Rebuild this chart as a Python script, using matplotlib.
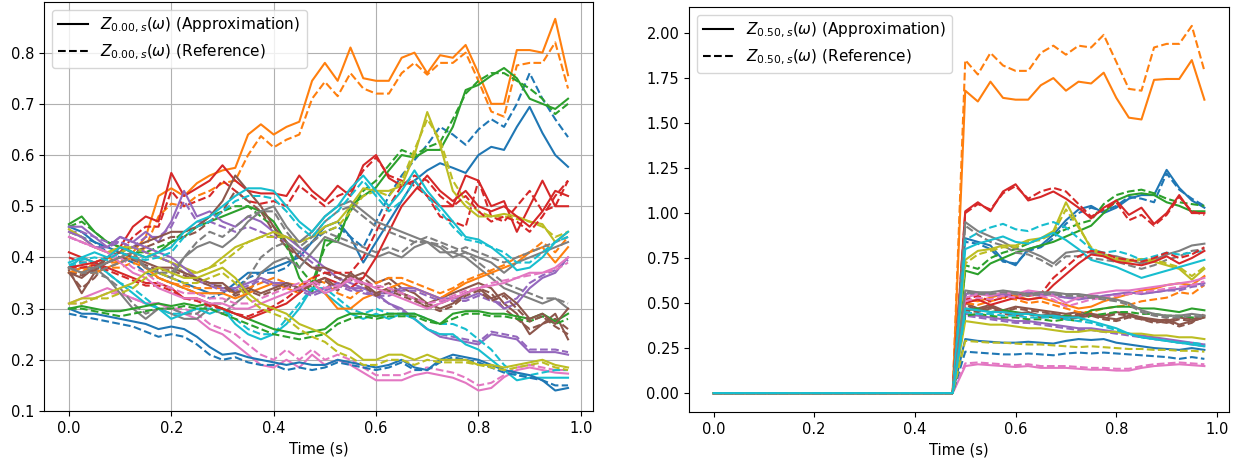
import matplotlib.pyplot as plt
from matplotlib.lines import Line2D
import numpy as np

plt.rcParams['font.size'] = 10.5

# time grid (s), step 0.025
t = np.arange(40) * 0.025

# --- left panel: Z_{0.00,s}, 20 paths (colour = C{i % 10}) ---
left_approx = [
    [0.46,0.45,0.43,0.42,0.41,0.40,0.38,0.37,0.36,0.35, 0.34,0.33,0.33,0.35,0.37,0.37,0.38,0.39,0.40,0.43,
     0.46,0.47,0.44,0.39,0.43,0.47,0.51,0.55,0.57,0.584, 0.575,0.565,0.60,0.616,0.61,0.655,0.694,0.643,0.60,0.577],
    [0.38,0.37,0.39,0.40,0.39,0.41,0.44,0.52,0.535,0.52, 0.545,0.56,0.57,0.575,0.64,0.66,0.64,0.655,0.665,0.745,
     0.78,0.745,0.81,0.75,0.745,0.745,0.79,0.80,0.76,0.795, 0.79,0.815,0.76,0.70,0.70,0.805,0.805,0.80,0.866,0.756],
    [0.465,0.48,0.45,0.43,0.42,0.41,0.40,0.41,0.43,0.44, 0.46,0.47,0.48,0.49,0.50,0.49,0.47,0.43,0.36,0.33,
     0.434,0.43,0.50,0.52,0.537,0.57,0.60,0.595,0.61,0.61, 0.655,0.727,0.737,0.755,0.77,0.75,0.71,0.70,0.69,0.71],
    [0.41,0.40,0.39,0.40,0.42,0.46,0.48,0.47,0.565,0.52, 0.535,0.55,0.58,0.55,0.53,0.525,0.525,0.52,0.56,0.53,
     0.51,0.54,0.52,0.58,0.60,0.555,0.54,0.55,0.52,0.50, 0.50,0.56,0.55,0.50,0.51,0.45,0.50,0.55,0.50,0.50],
    [0.46,0.46,0.44,0.42,0.44,0.43,0.45,0.43,0.47,0.53, 0.48,0.49,0.47,0.46,0.48,0.47,0.45,0.44,0.42,0.40,
     0.38,0.36,0.35,0.34,0.33,0.31,0.30,0.28,0.26,0.245, 0.24,0.235,0.23,0.25,0.245,0.24,0.215,0.215,0.215,0.21],
    [0.375,0.33,0.37,0.40,0.41,0.42,0.43,0.44,0.45,0.45, 0.46,0.48,0.51,0.56,0.53,0.50,0.46,0.43,0.40,0.38,
     0.38,0.37,0.36,0.37,0.35,0.36,0.34,0.33,0.31,0.32, 0.33,0.34,0.35,0.34,0.31,0.29,0.25,0.27,0.29,0.24],
    [0.31,0.32,0.33,0.34,0.33,0.32,0.31,0.31,0.30,0.29, 0.28,0.26,0.25,0.23,0.21,0.19,0.185,0.20,0.185,0.21,
     0.19,0.20,0.19,0.175,0.16,0.16,0.16,0.17,0.175,0.17, 0.165,0.155,0.14,0.145,0.166,0.18,0.185,0.18,0.175,0.173],
    [0.37,0.38,0.38,0.36,0.33,0.30,0.28,0.30,0.29,0.28, 0.28,0.30,0.29,0.31,0.33,0.37,0.39,0.40,0.38,0.41,
     0.44,0.43,0.42,0.41,0.40,0.41,0.40,0.42,0.43,0.41, 0.41,0.40,0.38,0.36,0.34,0.33,0.32,0.31,0.32,0.30],
    [0.455,0.44,0.42,0.41,0.42,0.42,0.41,0.40,0.39,0.38, 0.37,0.38,0.40,0.42,0.43,0.44,0.45,0.44,0.43,0.44,
     0.46,0.47,0.50,0.535,0.53,0.53,0.54,0.60,0.684,0.62, 0.53,0.50,0.48,0.48,0.485,0.48,0.47,0.465,0.43,0.45],
    [0.38,0.40,0.39,0.37,0.35,0.33,0.31,0.30,0.28,0.29, 0.30,0.29,0.30,0.27,0.25,0.24,0.25,0.27,0.30,0.34,
     0.33,0.31,0.29,0.28,0.29,0.28,0.29,0.28,0.26,0.25, 0.25,0.23,0.22,0.20,0.18,0.16,0.165,0.165,0.165,0.165],
    [0.30,0.29,0.29,0.285,0.28,0.275,0.27,0.26,0.265,0.26, 0.245,0.225,0.21,0.213,0.205,0.20,0.195,0.19,0.195,0.19,
     0.19,0.20,0.195,0.19,0.185,0.19,0.20,0.185,0.18,0.20, 0.21,0.205,0.20,0.19,0.18,0.175,0.17,0.16,0.14,0.145],
    [0.37,0.38,0.37,0.38,0.39,0.40,0.38,0.36,0.35,0.34, 0.33,0.33,0.33,0.32,0.33,0.34,0.35,0.34,0.33,0.35,
     0.33,0.30,0.30,0.32,0.33,0.34,0.35,0.34,0.33,0.32, 0.335,0.35,0.36,0.37,0.38,0.39,0.41,0.42,0.39,0.42],
    [0.30,0.305,0.30,0.295,0.295,0.30,0.305,0.31,0.305,0.31, 0.305,0.31,0.30,0.29,0.28,0.27,0.26,0.255,0.25,0.255,
     0.26,0.28,0.29,0.29,0.285,0.29,0.29,0.29,0.28,0.27, 0.29,0.295,0.295,0.29,0.29,0.285,0.28,0.29,0.275,0.29],
    [0.38,0.385,0.39,0.38,0.37,0.36,0.35,0.35,0.34,0.32, 0.32,0.31,0.30,0.29,0.28,0.29,0.30,0.31,0.33,0.35,
     0.36,0.35,0.34,0.36,0.40,0.45,0.50,0.53,0.56,0.53, 0.51,0.53,0.50,0.49,0.50,0.48,0.46,0.49,0.53,0.52],
    [0.45,0.44,0.42,0.42,0.44,0.43,0.42,0.41,0.40,0.38, 0.36,0.35,0.34,0.34,0.35,0.36,0.35,0.35,0.34,0.33,
     0.34,0.35,0.34,0.34,0.33,0.33,0.34,0.34,0.33,0.32, 0.32,0.32,0.33,0.32,0.30,0.31,0.34,0.36,0.37,0.40],
    [0.37,0.36,0.38,0.40,0.41,0.40,0.39,0.38,0.38,0.37, 0.36,0.35,0.35,0.33,0.34,0.33,0.34,0.35,0.34,0.35,
     0.36,0.34,0.37,0.35,0.33,0.34,0.33,0.32,0.31,0.30, 0.31,0.33,0.34,0.32,0.33,0.31,0.28,0.29,0.27,0.30],
    [0.44,0.43,0.42,0.41,0.39,0.37,0.36,0.34,0.33,0.32, 0.32,0.31,0.31,0.30,0.30,0.31,0.32,0.33,0.34,0.35,
     0.33,0.34,0.36,0.35,0.34,0.33,0.32,0.31,0.30,0.31, 0.32,0.33,0.34,0.345,0.35,0.36,0.37,0.37,0.38,0.40],
    [0.38,0.37,0.38,0.39,0.40,0.41,0.38,0.37,0.36,0.40, 0.42,0.43,0.42,0.44,0.47,0.49,0.50,0.46,0.43,0.45,
     0.48,0.50,0.51,0.49,0.47,0.46,0.45,0.44,0.43,0.42, 0.40,0.41,0.40,0.39,0.37,0.39,0.40,0.41,0.42,0.43],
    [0.31,0.32,0.32,0.33,0.34,0.35,0.37,0.38,0.37,0.36, 0.36,0.37,0.38,0.36,0.33,0.31,0.30,0.29,0.27,0.26,
     0.25,0.23,0.22,0.20,0.20,0.21,0.21,0.20,0.21,0.20, 0.20,0.20,0.19,0.19,0.185,0.19,0.195,0.20,0.19,0.185],
    [0.39,0.40,0.41,0.40,0.42,0.41,0.40,0.41,0.42,0.45, 0.47,0.48,0.50,0.52,0.535,0.535,0.53,0.50,0.47,0.45,
     0.48,0.50,0.535,0.56,0.53,0.50,0.53,0.57,0.53,0.50, 0.47,0.44,0.435,0.42,0.40,0.375,0.38,0.40,0.43,0.45],
]

left_ref = [
    [0.45,0.44,0.43,0.41,0.40,0.39,0.37,0.36,0.35,0.34, 0.33,0.32,0.33,0.34,0.36,0.37,0.37,0.38,0.41,0.43,
     0.45,0.46,0.44,0.42,0.47,0.52,0.56,0.59,0.62,0.655, 0.64,0.62,0.65,0.67,0.655,0.70,0.76,0.71,0.67,0.635],
    [0.37,0.37,0.38,0.39,0.39,0.40,0.42,0.48,0.505,0.50, 0.52,0.53,0.545,0.55,0.60,0.637,0.615,0.63,0.64,0.71,
     0.743,0.715,0.76,0.73,0.72,0.72,0.76,0.78,0.757,0.78, 0.78,0.80,0.745,0.685,0.675,0.775,0.78,0.78,0.82,0.73],
    [0.46,0.47,0.45,0.43,0.42,0.41,0.41,0.42,0.43,0.45, 0.46,0.48,0.49,0.50,0.50,0.48,0.46,0.42,0.38,0.35,
     0.42,0.44,0.49,0.53,0.55,0.58,0.61,0.60,0.615,0.625, 0.67,0.72,0.745,0.76,0.76,0.745,0.73,0.71,0.68,0.70],
    [0.40,0.39,0.39,0.40,0.41,0.44,0.46,0.46,0.53,0.50, 0.51,0.52,0.55,0.53,0.51,0.505,0.51,0.50,0.54,0.52,
     0.50,0.52,0.53,0.57,0.595,0.56,0.55,0.54,0.52,0.48, 0.47,0.46,0.55,0.48,0.47,0.50,0.53,0.49,0.50,0.55],
    [0.45,0.45,0.44,0.43,0.43,0.42,0.44,0.44,0.46,0.51, 0.47,0.47,0.46,0.45,0.46,0.45,0.44,0.43,0.41,0.39,
     0.37,0.36,0.34,0.33,0.325,0.31,0.295,0.28,0.26,0.25, 0.245,0.24,0.235,0.255,0.25,0.245,0.22,0.22,0.22,0.215],
    [0.37,0.34,0.36,0.39,0.40,0.41,0.42,0.43,0.44,0.44, 0.45,0.47,0.49,0.53,0.51,0.49,0.45,0.42,0.40,0.38,
     0.37,0.36,0.355,0.36,0.34,0.35,0.33,0.32,0.30,0.31, 0.32,0.33,0.34,0.33,0.30,0.28,0.26,0.27,0.28,0.26],
    [0.31,0.31,0.32,0.33,0.33,0.32,0.31,0.31,0.30,0.30, 0.29,0.27,0.26,0.25,0.23,0.21,0.20,0.22,0.20,0.22,
     0.20,0.21,0.20,0.185,0.17,0.17,0.17,0.18,0.185,0.18, 0.175,0.165,0.15,0.155,0.17,0.185,0.19,0.185,0.18,0.18],
    [0.37,0.37,0.37,0.36,0.34,0.31,0.29,0.30,0.30,0.29, 0.29,0.31,0.31,0.33,0.36,0.40,0.42,0.43,0.41,0.43,
     0.45,0.44,0.43,0.42,0.41,0.42,0.41,0.43,0.44,0.43, 0.42,0.41,0.39,0.37,0.35,0.34,0.33,0.32,0.32,0.31],
    [0.45,0.44,0.42,0.41,0.41,0.42,0.41,0.40,0.39,0.37, 0.37,0.38,0.39,0.41,0.43,0.44,0.44,0.44,0.43,0.44,
     0.45,0.46,0.49,0.52,0.53,0.52,0.55,0.61,0.67,0.63, 0.55,0.51,0.49,0.48,0.48,0.475,0.47,0.46,0.44,0.45],
    [0.38,0.39,0.39,0.37,0.35,0.34,0.32,0.30,0.29,0.29, 0.30,0.30,0.30,0.28,0.26,0.25,0.25,0.28,0.31,0.34,
     0.34,0.32,0.30,0.29,0.30,0.29,0.29,0.29,0.28,0.27, 0.27,0.26,0.24,0.22,0.19,0.17,0.17,0.175,0.18,0.18],
    [0.29,0.285,0.28,0.275,0.27,0.265,0.255,0.245,0.25,0.245, 0.23,0.21,0.20,0.205,0.195,0.19,0.19,0.18,0.185,0.18,
     0.185,0.195,0.19,0.185,0.18,0.185,0.195,0.18,0.18,0.195, 0.205,0.20,0.195,0.185,0.175,0.17,0.165,0.16,0.15,0.15],
    [0.37,0.37,0.37,0.38,0.38,0.39,0.38,0.36,0.35,0.345, 0.34,0.34,0.34,0.33,0.34,0.35,0.36,0.35,0.345,0.36,
     0.35,0.33,0.32,0.34,0.35,0.36,0.36,0.35,0.34,0.33, 0.34,0.355,0.365,0.375,0.385,0.40,0.41,0.43,0.41,0.44],
    [0.30,0.30,0.295,0.29,0.285,0.29,0.295,0.30,0.30,0.305, 0.30,0.30,0.29,0.28,0.27,0.26,0.25,0.245,0.24,0.245,
     0.25,0.27,0.28,0.285,0.28,0.285,0.285,0.285,0.275,0.27, 0.28,0.29,0.29,0.285,0.285,0.28,0.275,0.285,0.27,0.28],
    [0.38,0.38,0.385,0.375,0.365,0.355,0.345,0.345,0.335,0.32, 0.315,0.305,0.30,0.29,0.285,0.295,0.305,0.32,0.34,0.36,
     0.37,0.37,0.37,0.40,0.45,0.50,0.54,0.56,0.55,0.52, 0.50,0.52,0.49,0.47,0.48,0.47,0.45,0.48,0.52,0.55],
    [0.44,0.43,0.42,0.42,0.43,0.42,0.41,0.40,0.39,0.37, 0.355,0.345,0.335,0.335,0.345,0.355,0.345,0.345,0.335,0.325,
     0.335,0.345,0.335,0.335,0.325,0.325,0.335,0.335,0.325,0.315, 0.315,0.315,0.325,0.315,0.31,0.32,0.35,0.365,0.375,0.395],
    [0.37,0.365,0.375,0.39,0.40,0.395,0.385,0.375,0.375,0.365, 0.355,0.345,0.345,0.325,0.335,0.325,0.335,0.345,0.335,0.345,
     0.355,0.335,0.365,0.345,0.325,0.335,0.325,0.315,0.305,0.295, 0.305,0.325,0.335,0.315,0.325,0.30,0.275,0.285,0.265,0.25],
    [0.44,0.43,0.42,0.41,0.40,0.38,0.37,0.35,0.34,0.33, 0.33,0.32,0.32,0.31,0.31,0.32,0.33,0.34,0.35,0.355,
     0.34,0.345,0.355,0.35,0.345,0.34,0.33,0.32,0.31,0.315, 0.325,0.335,0.34,0.35,0.355,0.36,0.365,0.37,0.375,0.39],
    [0.38,0.37,0.37,0.38,0.39,0.40,0.38,0.37,0.37,0.40, 0.43,0.45,0.44,0.46,0.48,0.49,0.49,0.45,0.42,0.44,
     0.47,0.49,0.50,0.48,0.46,0.45,0.44,0.43,0.43,0.425, 0.41,0.42,0.41,0.40,0.39,0.40,0.41,0.42,0.43,0.44],
    [0.31,0.31,0.32,0.32,0.33,0.34,0.36,0.37,0.36,0.35, 0.35,0.36,0.37,0.35,0.32,0.30,0.29,0.28,0.26,0.245,
     0.235,0.215,0.205,0.19,0.19,0.20,0.20,0.19,0.20,0.195, 0.195,0.195,0.19,0.185,0.18,0.185,0.19,0.195,0.185,0.18],
    [0.385,0.395,0.40,0.395,0.41,0.40,0.395,0.40,0.41,0.44, 0.46,0.47,0.49,0.51,0.52,0.52,0.515,0.49,0.46,0.44,
     0.47,0.49,0.52,0.55,0.52,0.49,0.51,0.55,0.52,0.49, 0.46,0.435,0.43,0.42,0.41,0.39,0.39,0.41,0.43,0.44],
]

# --- right panel: Z_{0.50,s}; every path is 0 up to t = 0.475 ---
right_before = [0.0] * 20
right_approx = [
    [0.86,0.84,0.82,0.74,0.71,0.80,0.82,0.88,0.96,1.02, 1.04,1.00,1.03,1.08,1.10,1.10,1.24,1.14,1.07,1.03],
    [1.68,1.62,1.73,1.64,1.63,1.63,1.71,1.75,1.68,1.73, 1.72,1.78,1.64,1.53,1.52,1.74,1.745,1.745,1.85,1.63],
    [0.68,0.66,0.72,0.75,0.78,0.80,0.82,0.84,0.87,0.90, 0.93,1.00,1.07,1.10,1.11,1.10,1.06,1.04,1.01,1.01],
    [1.01,1.06,1.01,1.12,1.16,1.07,1.09,1.12,1.08,1.03, 0.97,1.03,1.07,0.99,1.03,0.94,1.00,1.10,1.00,1.00],
    [0.44,0.43,0.42,0.41,0.40,0.40,0.39,0.38,0.37,0.36, 0.36,0.35,0.34,0.33,0.32,0.31,0.30,0.29,0.28,0.27],
    [0.50,0.47,0.49,0.46,0.48,0.47,0.46,0.45,0.44,0.45, 0.44,0.43,0.45,0.44,0.42,0.41,0.40,0.42,0.41,0.43],
    [0.15,0.16,0.155,0.15,0.145,0.15,0.14,0.14,0.14,0.135, 0.13,0.13,0.125,0.125,0.14,0.15,0.155,0.16,0.155,0.15],
    [0.95,0.90,0.87,0.84,0.80,0.79,0.76,0.72,0.78,0.79, 0.78,0.77,0.76,0.74,0.72,0.74,0.77,0.79,0.82,0.83],
    [0.74,0.79,0.80,0.82,0.82,0.85,0.86,0.90,1.06,0.93, 0.80,0.76,0.74,0.73,0.74,0.73,0.71,0.69,0.63,0.69],
    [0.80,0.83,0.85,0.87,0.84,0.83,0.86,0.89,0.85,0.80, 0.74,0.72,0.70,0.67,0.64,0.66,0.68,0.70,0.72,0.74],
    [0.30,0.29,0.285,0.28,0.28,0.285,0.28,0.275,0.29,0.30, 0.295,0.30,0.28,0.27,0.26,0.25,0.245,0.24,0.25,0.24],
    [0.52,0.51,0.53,0.55,0.54,0.52,0.53,0.51,0.49,0.47, 0.48,0.51,0.53,0.55,0.57,0.58,0.60,0.61,0.60,0.65],
    [0.46,0.47,0.45,0.46,0.45,0.44,0.43,0.42,0.43,0.42, 0.46,0.47,0.48,0.48,0.47,0.47,0.46,0.45,0.47,0.46],
    [0.50,0.52,0.49,0.51,0.53,0.52,0.53,0.60,0.66,0.72, 0.77,0.76,0.73,0.72,0.71,0.73,0.76,0.72,0.75,0.79],
    [0.55,0.56,0.54,0.55,0.56,0.55,0.54,0.55,0.53,0.52, 0.53,0.54,0.55,0.56,0.55,0.56,0.57,0.58,0.60,0.61],
    [0.47,0.46,0.48,0.45,0.44,0.45,0.43,0.44,0.42,0.43, 0.44,0.42,0.41,0.43,0.42,0.40,0.41,0.38,0.40,0.42],
    [0.53,0.55,0.54,0.56,0.55,0.57,0.56,0.54,0.50,0.53, 0.55,0.56,0.57,0.57,0.58,0.59,0.60,0.61,0.62,0.64],
    [0.57,0.56,0.56,0.57,0.56,0.55,0.56,0.56,0.55,0.55, 0.54,0.53,0.52,0.50,0.46,0.44,0.43,0.43,0.44,0.43],
    [0.40,0.39,0.38,0.38,0.37,0.36,0.36,0.35,0.34,0.34, 0.35,0.34,0.34,0.33,0.33,0.32,0.32,0.31,0.31,0.30],
    [0.47,0.46,0.45,0.45,0.44,0.44,0.43,0.43,0.42,0.42, 0.40,0.38,0.36,0.33,0.31,0.30,0.29,0.28,0.27,0.26],
]

right_ref = [
    [0.84,0.83,0.80,0.73,0.72,0.79,0.81,0.86,0.94,1.00, 1.03,1.01,1.04,1.09,1.08,1.06,1.22,1.13,1.08,1.04],
    [1.85,1.77,1.89,1.82,1.79,1.79,1.89,1.93,1.88,1.93, 1.92,1.99,1.84,1.69,1.68,1.92,1.94,1.94,2.04,1.79],
    [0.71,0.69,0.75,0.78,0.80,0.83,0.86,0.88,0.91,0.94, 0.96,1.05,1.10,1.12,1.13,1.11,1.08,1.06,1.05,1.04],
    [1.00,1.05,1.02,1.11,1.15,1.08,1.12,1.14,1.12,1.05, 0.98,1.02,1.06,0.96,0.99,0.93,0.99,1.09,1.01,0.99],
    [0.43,0.42,0.41,0.40,0.39,0.39,0.38,0.37,0.36,0.35, 0.35,0.34,0.33,0.32,0.31,0.30,0.29,0.28,0.27,0.26],
    [0.49,0.46,0.48,0.45,0.47,0.46,0.45,0.44,0.43,0.44, 0.43,0.42,0.44,0.43,0.41,0.40,0.39,0.41,0.40,0.42],
    [0.165,0.17,0.165,0.16,0.155,0.16,0.15,0.15,0.15,0.145, 0.14,0.14,0.135,0.135,0.15,0.16,0.165,0.17,0.165,0.16],
    [0.93,0.88,0.84,0.82,0.78,0.77,0.74,0.70,0.76,0.76, 0.75,0.74,0.73,0.71,0.69,0.71,0.74,0.76,0.79,0.80],
    [0.72,0.77,0.79,0.81,0.81,0.84,0.85,0.89,1.02,0.92, 0.81,0.77,0.75,0.74,0.745,0.74,0.72,0.70,0.65,0.70],
    [0.85,0.89,0.92,0.94,0.91,0.90,0.93,0.95,0.92,0.86, 0.80,0.78,0.79,0.77,0.74,0.76,0.78,0.77,0.78,0.79],
    [0.23,0.225,0.22,0.215,0.215,0.22,0.215,0.21,0.22,0.225, 0.22,0.225,0.22,0.215,0.21,0.205,0.20,0.19,0.20,0.19],
    [0.50,0.49,0.51,0.53,0.52,0.50,0.51,0.49,0.47,0.45, 0.45,0.47,0.48,0.49,0.51,0.52,0.53,0.56,0.55,0.60],
    [0.43,0.44,0.43,0.42,0.42,0.41,0.41,0.40,0.41,0.40, 0.43,0.44,0.45,0.45,0.44,0.44,0.43,0.43,0.42,0.42],
    [0.52,0.54,0.51,0.53,0.55,0.54,0.55,0.64,0.70,0.76, 0.79,0.78,0.75,0.74,0.73,0.75,0.78,0.75,0.77,0.81],
    [0.54,0.55,0.55,0.54,0.55,0.56,0.55,0.54,0.53,0.53, 0.54,0.54,0.55,0.55,0.56,0.56,0.57,0.57,0.59,0.60],
    [0.46,0.45,0.47,0.44,0.43,0.44,0.42,0.43,0.41,0.42, 0.43,0.41,0.40,0.42,0.41,0.39,0.40,0.37,0.39,0.44],
    [0.51,0.53,0.52,0.54,0.53,0.55,0.54,0.52,0.48,0.50, 0.52,0.53,0.54,0.55,0.56,0.57,0.58,0.59,0.60,0.62],
    [0.56,0.55,0.55,0.56,0.55,0.54,0.55,0.55,0.54,0.54, 0.53,0.52,0.51,0.49,0.45,0.43,0.42,0.42,0.43,0.42],
    [0.29,0.285,0.28,0.28,0.275,0.27,0.27,0.265,0.26,0.255, 0.26,0.255,0.25,0.245,0.245,0.24,0.24,0.235,0.235,0.23],
    [0.45,0.44,0.44,0.43,0.43,0.42,0.42,0.42,0.41,0.40, 0.39,0.37,0.35,0.33,0.31,0.30,0.29,0.28,0.28,0.27],
]

assert all(len(r) == 40 for r in left_approx + left_ref)
assert all(len(r) == 20 for r in right_approx + right_ref)

fig = plt.figure(figsize=(12.45, 4.68), dpi=100)
ax1 = fig.add_axes([0.0353, 0.1218, 0.441, 0.874])
ax2 = fig.add_axes([0.5534, 0.1197, 0.4337, 0.8654])

for i in range(len(left_approx)):
    c = f'C{i % 10}'
    ax1.plot(t, left_approx[i], color=c)
    ax1.plot(t, left_ref[i], '--', color=c)
    ax2.plot(t, right_before + right_approx[i], color=c)
    ax2.plot(t, right_before + right_ref[i], '--', color=c)

handles = [Line2D([], [], color='k'), Line2D([], [], color='k', linestyle='--')]
ax1.legend(handles, [r'$Z_{0.00,s}(\omega)$ (Approximation)', r'$Z_{0.00,s}(\omega)$ (Reference)'],
           loc='upper left', fontsize=11)
ax2.legend(handles, [r'$Z_{0.50,s}(\omega)$ (Approximation)', r'$Z_{0.50,s}(\omega)$ (Reference)'],
           loc='upper left', fontsize=11)

ax1.set_ylim(0.1, 0.899)
ax2.set_ylim(-0.105, 2.145)
ax1.grid(True)
ax1.set_xlabel('Time (s)')
ax2.set_xlabel('Time (s)')

fig.savefig('out.png', dpi=100)
